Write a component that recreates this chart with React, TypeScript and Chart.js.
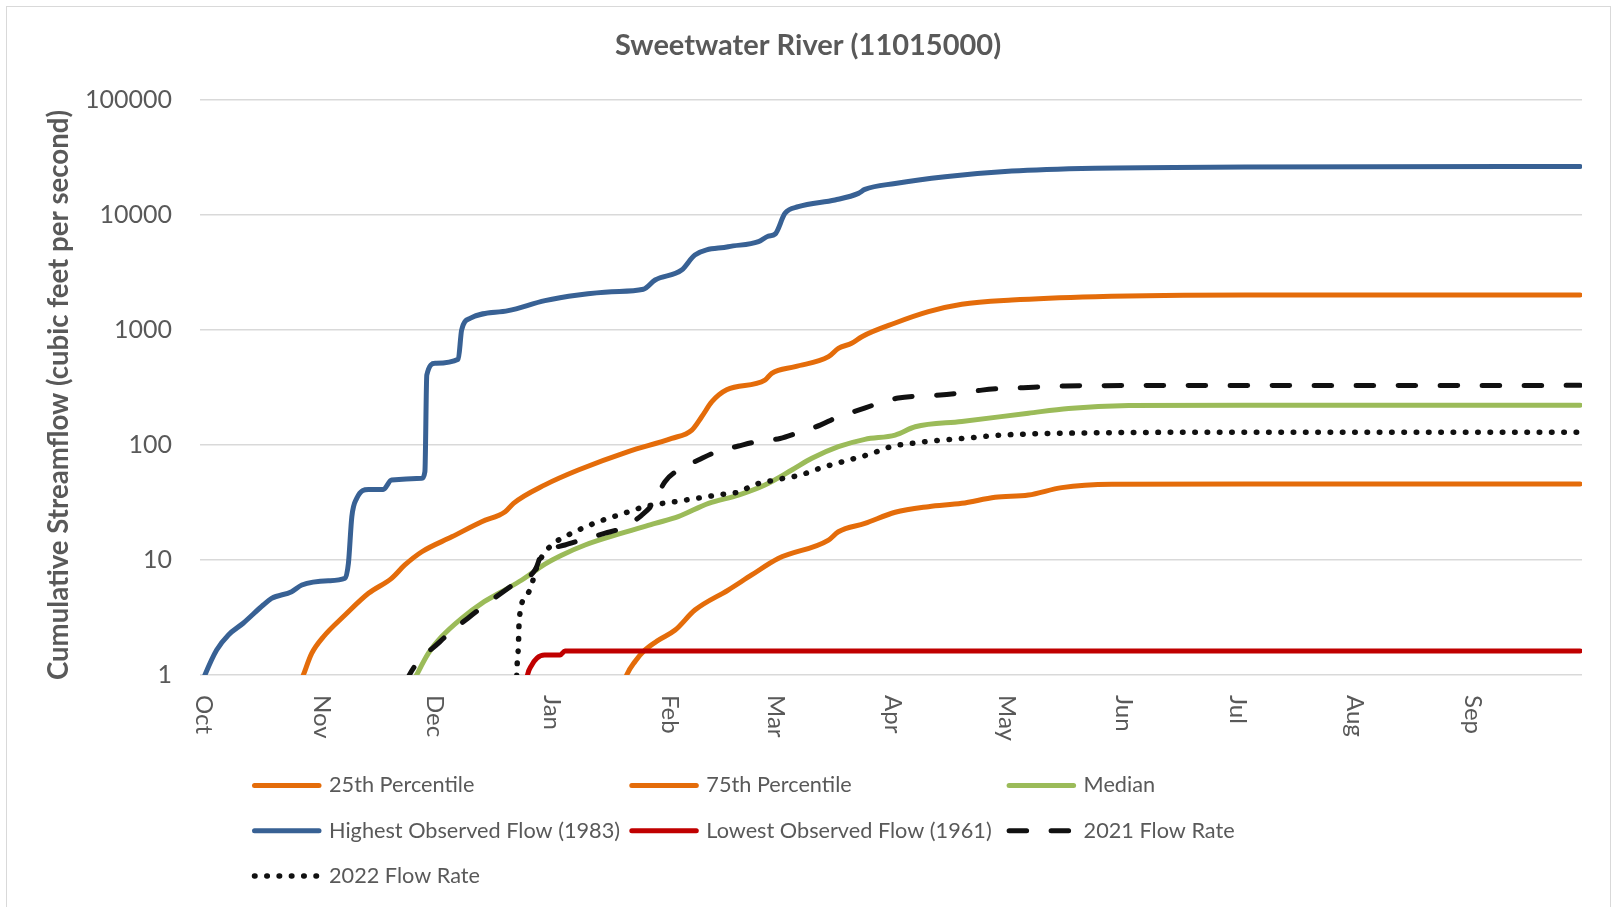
import React, { useEffect, useRef } from "react";
import { Chart, registerables } from "chart.js";

Chart.register(...registerables);

// ---- text ----
const chartTitle = "Sweetwater River (11015000)";
const yAxisTitle = "Cumulative Streamflow (cubic feet per second)";
const monthLabels = ["Oct", "Nov", "Dec", "Jan", "Feb", "Mar", "Apr", "May", "Jun", "Jul", "Aug", "Sep"];
const monthStartDays = [0, 31, 61, 92, 123, 151, 182, 212, 243, 273, 304, 335];
const yTickValues = [1, 10, 100, 1000, 10000, 100000];

// ---- series (day of water year, cumulative cfs) ----
const p25Days = [111.5, 112.2, 114.4, 117.0, 120.6, 125.0, 130.2, 139.0, 145.2, 152.2, 165.5, 168.1, 175.1, 183.1, 191.9, 200.7, 209.5, 218.3, 227.1, 240.3, 275.5, 364];
const p25Values = [0.85, 1.0, 1.31, 1.65, 2.01, 2.46, 3.67, 5.48, 7.41, 10.3, 14.9, 17.6, 20.8, 26, 29.1, 31.1, 35.1, 36.7, 42.6, 45.5, 45.8, 45.8];

const p75Days = [26.0, 26.8, 29.0, 32.1, 37.8, 44.0, 50.1, 53.6, 58.1, 66.0, 73.9, 80.1, 82.3, 90.6, 99.4, 112.6, 124.1, 129.4, 132.0, 134.7, 138.6, 148.7, 150.5, 156.7, 165.5, 168.1, 171.6, 174.3, 183.1, 191.9, 200.7, 213.9, 235.9, 275.5, 364];
const p75Values = [0.85, 1.0, 1.54, 2.15, 3.32, 5.13, 6.93, 9.05, 11.8, 15.9, 21.5, 26.3, 31.1, 45, 60.6, 87.7, 114, 135, 176, 238, 302, 367, 420, 480, 586, 693, 766, 875, 1150, 1443, 1672, 1823, 1950, 2015, 2015];

const medianDays = [56.0, 56.7, 59.8, 63.3, 68.6, 73.9, 79.2, 84.5, 87.1, 90.6, 95.0, 101.2, 110.9, 119.7, 125.8, 133.8, 141.7, 148.7, 155.8, 161.1, 168.1, 175.1, 183.1, 188.4, 200.7, 218.3, 228.9, 244.8, 275.5, 364];
const medianValues = [0.9, 1.0, 1.54, 2.15, 3.11, 4.2, 5.3, 6.7, 7.66, 9.2, 11.0, 13.5, 17.1, 20.8, 23.8, 31.1, 36.7, 44.9, 60.6, 76.6, 96.6, 112, 122, 144, 160, 189, 208, 220, 222, 222];

const highDays = [0, 0.8, 3.9, 7.0, 10.9, 16.2, 18.4, 23.7, 26.4, 33.4, 37.8, 38.7, 39.6, 40.9, 44.0, 47.9, 50.1, 58.1, 58.9, 59.4, 61.6, 67.7, 68.6, 70.8, 80.9, 90.6, 99.4, 108.2, 116.6, 119.7, 126.7, 130.2, 139.0, 147.0, 149.6, 151.4, 154.0, 157.5, 167.2, 173.4, 175.1, 183.1, 196.3, 213.9, 235.9, 275.5, 364];
const highValues = [0.85, 1.0, 1.65, 2.23, 2.82, 4.06, 4.64, 5.3, 6.06, 6.6, 6.93, 9.36, 23.8, 34.4, 41.1, 41.1, 49.6, 51.3, 58.6, 406, 513, 556, 1000, 1260, 1473, 1800, 2015, 2153, 2259, 2722, 3326, 4487, 5303, 5860, 6560, 6830, 10350, 11800, 13500, 15420, 16700, 18800, 21500, 24100, 25500, 26100, 26400];

const lowDays = [85.6, 86.0, 87.0, 88.5, 90.5, 94.6, 95.9, 364];
const lowValues = [0.8, 1.0, 1.2, 1.4, 1.49, 1.49, 1.62, 1.62];

const flow2021Days = [54.0, 54.8, 62.9, 71.3, 82.7, 88.0, 89.8, 92.0, 95.9, 100.7, 106.5, 111.2, 116.2, 119.2, 122.3, 125.8, 131.1, 136.0, 141.7, 146.5, 152.7, 157.5, 163.3, 167.7, 173.4, 178.2, 183.9, 189.2, 195.0, 200.3, 206.0, 211.0, 216.9, 222.2, 228.0, 234.0, 364];
const flow2021Values = [0.85, 1.0, 1.95, 3.32, 6.27, 8.19, 11.4, 12.5, 13.5, 15.1, 17.1, 19.1, 24.6, 31.1, 48, 60.6, 74, 87.5, 98, 107, 114, 128, 149, 174, 201, 227, 256, 267, 272, 283, 300, 310, 315, 321, 326, 328, 330];

const flow2022Days = [83.0, 83.2, 83.6, 83.8, 85.6, 87.1, 88.0, 89.8, 92.8, 98.5, 104.7, 110.9, 117.0, 126.7, 136.1, 142.6, 145.2, 151.4, 158.0, 164.0, 170.3, 176.5, 182.6, 186.3, 192.4, 202.3, 211.3, 224.5, 272.9, 364];
const flow2022Values = [0.6, 1.1, 1.82, 3.0, 4.8, 6.06, 7.9, 10.7, 13.8, 17.6, 21.5, 25.1, 29.1, 32.8, 36.7, 39.8, 44.3, 49.6, 54.8, 64, 73.1, 83.5, 98, 102, 108, 115, 122, 126, 129, 129];

const seriesLabels = [
  "25th Percentile",
  "75th Percentile",
  "Median",
  "Highest Observed Flow (1983)",
  "Lowest Observed Flow (1961)",
  "2021 Flow Rate",
  "2022 Flow Rate",
];
const seriesDays = [p25Days, p75Days, medianDays, highDays, lowDays, flow2021Days, flow2022Days];
const seriesValues = [p25Values, p75Values, medianValues, highValues, lowValues, flow2021Values, flow2022Values];
const seriesColors = ["#E46C0A", "#E46C0A", "#9BBB59", "#386194", "#C00000", "#111111", "#111111"];
const seriesDashes: number[][] = [[], [], [], [], [], [17.5, 24.5], [0.5, 11.8]];
const seriesWidths = [5, 5, 5, 5, 5, 5, 5.5];

const TEXT = "#595959";
const FONT = "Lato";

const decorPlugin = {
  id: "decor",
  afterDraw(chart: any) {
    const ctx = chart.ctx as CanvasRenderingContext2D;
    const xs = chart.scales.x;
    ctx.save();
    ctx.fillStyle = TEXT;

    // title
    ctx.font = `bold 29px ${FONT}`;
    ctx.textAlign = "center";
    ctx.textBaseline = "middle";
    ctx.fillText(chartTitle, 808, 46);

    // y-axis title
    ctx.save();
    ctx.translate(59, 395);
    ctx.rotate(-Math.PI / 2);
    ctx.font = `bold 27.6px ${FONT}`;
    ctx.textAlign = "center";
    ctx.textBaseline = "middle";
    ctx.fillText(yAxisTitle, 0, 0);
    ctx.restore();

    // month labels (rotated clockwise)
    ctx.font = `24px ${FONT}`;
    monthStartDays.forEach((d, i) => {
      const x = xs.getPixelForValue(d) + 2;
      ctx.save();
      ctx.translate(x, 695);
      ctx.rotate(Math.PI / 2);
      ctx.textAlign = "left";
      ctx.textBaseline = "middle";
      ctx.fillText(monthLabels[i], 0, 0);
      ctx.restore();
    });

    // legend (3 columns)
    const ds = chart.data.datasets;
    ctx.font = `21.7px ${FONT}`;
    ctx.textAlign = "left";
    ctx.textBaseline = "middle";
    ds.forEach((d: any, i: number) => {
      const col = i % 3;
      const row = Math.floor(i / 3);
      const x0 = 252 + col * 377.3;
      const y = 785.5 + row * 45.3;
      ctx.save();
      ctx.strokeStyle = d.borderColor;
      ctx.lineWidth = d.borderWidth;
      ctx.lineCap = "round";
      ctx.setLineDash(d.borderDash || []);
      ctx.beginPath();
      ctx.moveTo(x0 + 2.5, y);
      ctx.lineTo(x0 + 67, y);
      ctx.stroke();
      ctx.restore();
      ctx.fillStyle = TEXT;
      ctx.fillText(d.label, x0 + 77, y);
    });
    ctx.restore();
  },
};

export default function App() {
  const ref = useRef<HTMLCanvasElement | null>(null);

  useEffect(() => {
    if (!ref.current) return;
    const datasets = seriesLabels.map((label, i) => ({
      label,
      data: seriesDays[i].map((x, j) => ({ x, y: seriesValues[i][j] })),
      borderColor: seriesColors[i],
      backgroundColor: seriesColors[i],
      borderWidth: seriesWidths[i],
      borderDash: seriesDashes[i],
      borderCapStyle: "round" as const,
      borderJoinStyle: "round" as const,
      pointRadius: 0,
      fill: false,
      cubicInterpolationMode: "monotone" as const,
      order: 10 - i,
    }));
    const chart = new Chart(ref.current, {
      type: "line",
      data: { datasets },
      options: {
        animation: false,
        responsive: false,
        devicePixelRatio: 1,
        layout: { padding: { left: 0, top: 100, right: 30, bottom: 232 } },
        plugins: {
          legend: { display: false },
          title: { display: false },
          tooltip: { enabled: false },
        },
        scales: {
          x: { type: "linear", min: -0.5, max: 364.5, display: false },
          y: {
            type: "logarithmic",
            min: 1,
            max: 100000,
            afterBuildTicks: (s: any) => {
              s.ticks = yTickValues.map((v) => ({ value: v }));
            },
            afterFit: (s: any) => {
              s.width = 200;
            },
            grid: { color: "#D9D9D9", lineWidth: 1.5, drawTicks: false },
            border: { display: false },
            ticks: {
              padding: 28,
              color: TEXT,
              font: { family: FONT, size: 25 },
              callback: (v: any) => String(v),
            },
          },
        },
      } as any,
      plugins: [decorPlugin],
    });
    return () => chart.destroy();
  }, []);

  return (
    <div style={{ position: "fixed", left: 0, top: 0, width: 1612, height: 907, background: "#fff", overflow: "hidden" }}>
      <div
        style={{
          position: "absolute",
          left: 6,
          top: 6,
          width: 1605,
          height: 901,
          boxSizing: "border-box",
          borderTop: "1px solid #D9D9D9",
          borderLeft: "1px solid #D9D9D9",
          borderRight: "1px solid #D9D9D9",
        }}
      />
      <canvas ref={ref} width={1612} height={907} style={{ position: "absolute", left: 0, top: 0, width: 1612, height: 907 }} />
    </div>
  );
}
